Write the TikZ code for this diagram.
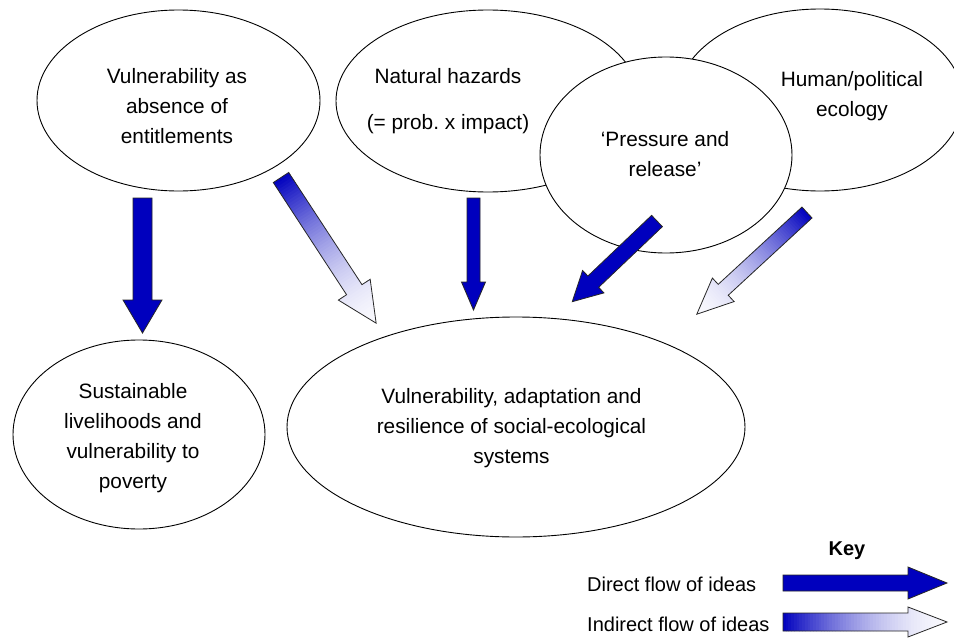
\documentclass[tikz,border=0pt]{standalone}
\usepackage{fontspec}
\setmainfont{Liberation Sans}
\usetikzlibrary{shapes.geometric}
\definecolor{flowblue}{RGB}{0,0,190}
\definecolor{paleend}{RGB}{248,248,253}
\frenchspacing
\tikzset{
  ell/.style={draw=black, ellipse, fill=white, line width=0.9pt, inner sep=0pt},
  txt/.style={align=center, inner sep=0pt, font=\fontsize{20.8}{30}\selectfont},
  keytxt/.style={inner sep=0pt, font=\fontsize{20}{24}\selectfont},
  arrowline/.style={draw=black!85, line width=0.8pt, line join=miter}
}
% #1 tail coordinate, #2 angle, #3 length, #4 body half width, #5 head half width, #6 head length
\newcommand\DirArrow[6]{%
  \begin{scope}[shift={(#1)}, rotate=#2]
    \filldraw[arrowline, fill=flowblue] (0,#4) -- ({#3-#6},#4) -- ({#3-#6},#5) -- (#3,0)
      -- ({#3-#6},{-#5}) -- ({#3-#6},{-#4}) -- (0,{-#4}) -- cycle;
  \end{scope}}
\newcommand\IndArrow[6]{%
  \begin{scope}[shift={(#1)}, rotate=#2]
    \begin{scope}
      \clip (0,#4) -- ({#3-#6},#4) -- ({#3-#6},#5) -- (#3,0)
        -- ({#3-#6},{-#5}) -- ({#3-#6},{-#4}) -- (0,{-#4}) -- cycle;
      \foreach \i in {0,...,59}{%
        \pgfmathsetmacro\pct{100*(1-(\i+0.5)/60)^1.7}%
        \fill[flowblue!\pct!paleend] ({#3*\i/60},{-#5-2}) rectangle ({#3*(\i+1)/60+0.8},{#5+2});
      }
    \end{scope}
    \draw[arrowline] (0,#4) -- ({#3-#6},#4) -- ({#3-#6},#5) -- (#3,0)
      -- ({#3-#6},{-#5}) -- ({#3-#6},{-#4}) -- (0,{-#4}) -- cycle;
  \end{scope}}
\begin{document}
\begin{tikzpicture}[x=1pt, y=-1pt]
\useasboundingbox (0,0) rectangle (954,640);
\clip (0,0) rectangle (954,640);
\fill[white] (0,0) rectangle (954,640);

% top ellipses
\node[ell, minimum width=283pt, minimum height=181pt] (ent) at (178.5,100.5) {};
\node[ell, minimum width=304pt, minimum height=182pt] (haz) at (488,101) {};
\node[ell, minimum width=286pt, minimum height=182pt] (pol) at (820,100) {};
\node[ell, minimum width=252pt, minimum height=196pt] (par) at (666,155) {};

\node[txt] (tent) at (177,106) {Vulnerability as\\absence of\\entitlements};
\node[txt] (thaz) at (448,101) {Natural hazards\\[16pt](= prob. x impact)};
\node[txt] (tpol) at (852,96.5) {Human/political\\ecology};
\node[txt] (tpar) at (665,154) {‘Pressure and\\release’};

% bottom ellipses
\node[ell, minimum width=252pt, minimum height=189pt] (sus) at (139,434.5) {};
\node[ell, minimum width=458pt, minimum height=220pt] (ses) at (516,427) {};
\node[txt] (tsus) at (133,438) {Sustainable\\livelihoods and\\vulnerability to\\poverty};
\node[txt] (tses) at (511.5,428.5) {Vulnerability, adaptation and\\resilience of social-ecological\\systems};

% arrow tails
\coordinate (a1) at (142.5,198);
\coordinate (a2) at (281,177.5);
\coordinate (a3) at (473.5,198);
\coordinate (a4) at (657,221);
\coordinate (a5) at (807,212.5);
\coordinate (k1) at (783,583);
\coordinate (k2) at (783,622);

\DirArrow{a1}{-90}{135}{9.5}{19.5}{33}
\IndArrow{a2}{-56.85}{174}{9.2}{19}{40}
\DirArrow{a3}{-90}{112}{6.5}{12}{28}
\DirArrow{a4}{-136.4}{117}{7.8}{15.5}{29}
\IndArrow{a5}{-137.3}{150}{7.4}{16}{36}

% key
\node[keytxt, font=\fontsize{20}{24}\selectfont\bfseries, anchor=base] (key) at (847,555) {Key};
\node[keytxt, anchor=base west] (kdir) at (587,591) {Direct flow of ideas};
\node[keytxt, anchor=base west] (kind) at (587,631) {Indirect flow of ideas};
\DirArrow{k1}{0}{164}{8}{16}{39}
\IndArrow{k2}{0}{164}{9}{15}{39}
\end{tikzpicture}
\end{document}
